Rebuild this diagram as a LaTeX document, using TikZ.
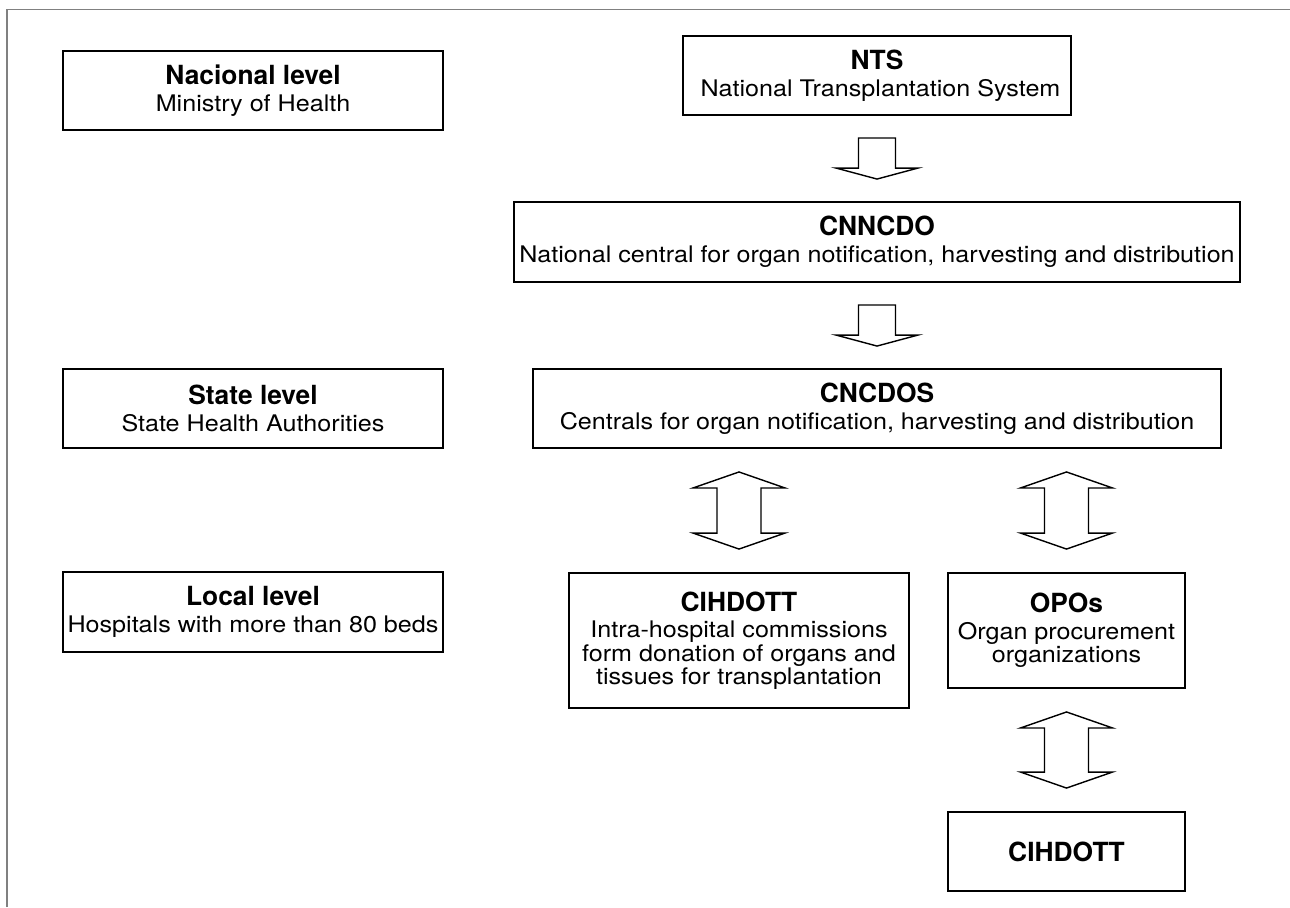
\documentclass[tikz,border=0pt]{standalone}
\usepackage{fontspec}
\setmainfont{TeX Gyre Heros}[FakeStretch=1.1]
\newfontfamily\headfont{TeX Gyre Heros}
\usetikzlibrary{calc}

\newcommand{\boxtitle}[1]{{\headfont\bfseries\fontsize{15}{15}\selectfont #1}}
\newcommand{\flowdown}[2]{%
  \draw[hollow] ($(#1.south)+(-18.5,22)$) -- ($(#2.north)+(-18.5,-33)$) -- ($(#2.north)+(-41,-33)$) -- ($(#2.north)+(0,-22)$)
    -- ($(#2.north)+(41,-33)$) -- ($(#2.north)+(18.5,-33)$) -- ($(#1.south)+(18.5,22)$) -- cycle;}
\newcommand{\flowboth}[2]{%
  \path (#2.north |- #1.south) coordinate (up);
  \draw[hollow] ($(up)+(0,23)$) -- ($(up)+(46,39)$) -- ($(up)+(22,39)$) -- ($(#2.north)+(22,-39)$) -- ($(#2.north)+(46,-39)$)
    -- ($(#2.north)+(0,-23)$) -- ($(#2.north)+(-46,-39)$) -- ($(#2.north)+(-22,-39)$) -- ($(up)+(-22,39)$) -- ($(up)+(-46,39)$) -- cycle;}

\begin{document}
\begin{tikzpicture}[x=0.02cm, y=-0.02cm]
\tikzset{levelbox/.style={draw, line width=1.1pt, inner sep=0pt, align=center, font=\fontsize{13}{13.2}\selectfont},
  hollow/.style={draw, line width=0.8pt, line join=miter}}
\useasboundingbox (0,0) rectangle (1290,907);
\draw[gray, line width=0.9pt] (7,907) -- (7,9.5) -- (1290,9.5);
\node[levelbox, minimum width=7.6cm, minimum height=1.58cm] (nacional) at (253,90.5) {\boxtitle{Nacional level}\\[2pt] Ministry of Health};
\node[levelbox, minimum width=7.6cm, minimum height=1.58cm] (state) at (253,408.5) {\boxtitle{State level}\\[2pt] State Health Authorities};
\node[levelbox, minimum width=7.6cm, minimum height=1.6cm] (local) at (253,612) {\boxtitle{Local level}\\[2pt] Hospitals with more than 80 beds};
\node[levelbox, minimum width=7.76cm, minimum height=1.58cm] (nts) at (877,75.5) {\boxtitle{NTS}\\[2pt] \hspace{4pt}National Transplantation System};
\node[levelbox, minimum width=14.52cm, minimum height=1.6cm] (cnncdo) at (877,242) {\boxtitle{CNNCDO}\\[2pt] National central for organ notification, harvesting and distribution};
\node[levelbox, minimum width=13.78cm, minimum height=1.58cm] (cncdos) at (877,408.5) {\boxtitle{CNCDOS}\\[2pt] Centrals for organ notification, harvesting and distribution};
\node[levelbox, minimum width=6.8cm, minimum height=2.7cm] (cihdott) at (739,640.5) {\boxtitle{CIHDOTT}\\[2pt] Intra-hospital commissions\\ form donation of organs and\\ tissues for transplantation};
\node[levelbox, minimum width=4.74cm, minimum height=2.3cm] (opos) at (1066.5,630.5) {\boxtitle{OPOs}\\[2pt] Organ procurement\\ organizations};
\node[levelbox, minimum width=4.74cm, minimum height=1.58cm] (cihdottlow) at (1066.5,851.5) {\boxtitle{CIHDOTT}};
\flowdown{nts}{cnncdo}
\flowdown{cnncdo}{cncdos}
\flowboth{cncdos}{cihdott}
\flowboth{cncdos}{opos}
\flowboth{opos}{cihdottlow}
\end{tikzpicture}
\end{document}
